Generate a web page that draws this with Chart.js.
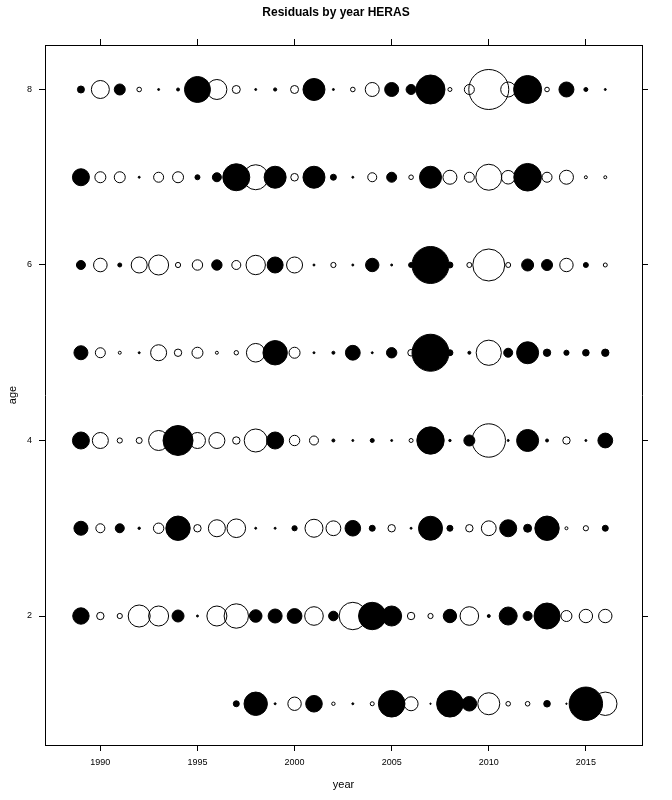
<!DOCTYPE html>
<html><head><meta charset="utf-8">
<script src="https://cdn.jsdelivr.net/npm/chart.js@4/dist/chart.umd.min.js"></script>
<style>html,body{margin:0;padding:0;background:#fff}canvas{display:block}</style>
</head><body>
<canvas id="c" width="672" height="800"></canvas>
<script>
// ---- data ----
const years = [1989,1990,1991,1992,1993,1994,1995,1996,1997,1998,1999,2000,2001,2002,2003,2004,2005,2006,2007,2008,2009,2010,2011,2012,2013,2014,2015,2016];
const yearsAge1 = [1997,1998,1999,2000,2001,2002,2003,2004,2005,2006,2007,2008,2009,2010,2011,2012,2013,2014,2015,2016];
const resAge8 = [0.7,-1.8,1.1,-0.46,0.2,0.3,2.6,-2.0,-0.8,0.2,0.32,-0.8,2.2,0.2,-0.46,-1.4,1.4,1.0,2.9,-0.4,-1.0,-4.0,-1.5,2.8,-0.46,1.5,0.4,0.2];
const resAge7 = [1.7,-1.1,-1.1,0.2,-1.0,-1.1,0.5,0.9,2.7,-2.5,2.2,-0.76,2.2,0.6,0.2,-0.9,1.0,-0.46,2.2,-1.4,-1.0,-2.6,-1.36,2.76,-1.0,-1.4,-0.3,-0.3];
const resAge6 = [0.9,-1.36,0.4,-1.6,-2.0,-0.52,-1.04,1.04,-0.9,-1.94,1.6,-1.6,0.2,-0.52,0.2,1.34,0.2,0.5,3.7,0.6,-0.5,-3.2,-0.5,1.2,1.1,-1.34,0.5,-0.4];
const resAge5 = [1.4,-1.0,-0.3,0.2,-1.6,-0.74,-1.1,-0.3,-0.44,-1.86,2.44,-1.1,0.2,0.3,1.48,0.2,1.04,-0.66,3.7,0.6,0.3,-2.52,0.9,2.2,0.74,0.52,0.66,0.74];
const resAge4 = [1.7,-1.6,-0.52,-0.6,-2.0,3.0,-1.6,-1.6,-0.74,-2.3,1.7,-1.04,-0.9,0.3,0.2,0.4,0.2,-0.4,2.74,0.24,1.1,-3.34,0.2,2.2,0.3,-0.74,0.2,1.48];
const resAge3 = [1.4,-0.9,0.9,0.24,-1.04,2.44,-0.74,-1.7,-1.86,0.2,0.2,0.52,-1.8,-1.48,1.56,0.6,-0.74,0.2,2.4,0.6,-0.74,-1.48,1.7,0.8,2.44,-0.3,-0.52,0.6];
const resAge2 = [1.64,-0.74,-0.52,-2.2,-2.0,1.2,0.2,-2.0,-2.44,1.26,1.4,1.48,-1.86,0.96,-2.74,2.74,2.0,-0.74,-0.52,1.34,-1.86,0.3,1.8,0.9,2.6,-1.1,-1.34,-1.34];
const resAge1 = [0.6,2.34,0.2,-1.34,1.66,-0.34,0.2,-0.4,2.66,-1.4,0.14,2.66,1.46,-2.2,-0.46,-0.46,0.66,0.14,3.34,-2.34];
const xTicks = [1990,1995,2000,2005,2010,2015];
const yTicks = [2,4,6,8];

// ---- build ----
const R_PER_UNIT = 5;
const rows = [
  {age:8, yrs:years, res:resAge8},
  {age:7, yrs:years, res:resAge7},
  {age:6, yrs:years, res:resAge6},
  {age:5, yrs:years, res:resAge5},
  {age:4, yrs:years, res:resAge4},
  {age:3, yrs:years, res:resAge3},
  {age:2, yrs:years, res:resAge2},
  {age:1, yrs:yearsAge1, res:resAge1}
];
const datasets = rows.map(row => ({
  label: 'age ' + row.age,
  data: row.yrs.map((yr, i) => ({x: yr, y: row.age, r: Math.abs(row.res[i]) * R_PER_UNIT, v: row.res[i]})),
  backgroundColor: ctx => (ctx.raw && ctx.raw.v > 0) ? '#000000' : 'rgba(0,0,0,0)',
  borderColor: '#000000',
  borderWidth: 1
}));

Chart.defaults.font.family = "'Liberation Sans', Arial, sans-serif";
Chart.defaults.color = '#000';

const X_MIN = 1987.15, X_MAX = 2017.89, Y_MIN = 0.53, Y_MAX = 8.507;
const setTicks = arr => s => { s.ticks = arr.map(v => ({value: v})); };
const gridOpts = {display: true, drawOnChartArea: false, drawTicks: true, tickLength: 6, color: '#000', tickWidth: 1};
const borderOpts = {display: true, color: '#000', width: 1};

new Chart(document.getElementById('c'), {
  type: 'bubble',
  data: {datasets},
  options: {
    responsive: false,
    animation: false,
    events: [],
    layout: {padding: 0},
    plugins: {
      legend: {display: false},
      tooltip: {enabled: false},
      title: {display: true, text: 'Residuals by year HERAS', color: '#000',
        font: {size: 12, weight: 'bold', lineHeight: 1}, padding: {top: 7, bottom: 5}}
    },
    scales: {
      x: {type: 'linear', position: 'bottom', min: X_MIN, max: X_MAX,
        afterBuildTicks: setTicks(xTicks),
        afterFit: s => { s.height = 55; },
        grid: gridOpts, border: borderOpts,
        ticks: {font: {size: 9}, color: '#000', padding: 6, maxRotation: 0, callback: v => String(v)},
        title: {display: true, text: 'year', font: {size: 11}, color: '#000', padding: {top: 8, bottom: 8}}},
      x2: {type: 'linear', position: 'top', min: X_MIN, max: X_MAX,
        afterBuildTicks: setTicks(xTicks),
        afterFit: s => { s.height = 21; },
        grid: gridOpts, border: borderOpts,
        ticks: {display: false}},
      y: {type: 'linear', position: 'left', min: Y_MIN, max: Y_MAX,
        afterBuildTicks: setTicks(yTicks),
        afterFit: s => { s.width = 45; },
        grid: gridOpts, border: borderOpts,
        ticks: {font: {size: 9}, color: '#000', padding: 7, callback: v => String(v)},
        title: {display: true, text: 'age', font: {size: 11}, color: '#000', padding: {top: 6, bottom: 6}}},
      y2: {type: 'linear', position: 'right', min: Y_MIN, max: Y_MAX,
        afterBuildTicks: setTicks(yTicks),
        afterFit: s => { s.width = 30; },
        grid: gridOpts, border: borderOpts,
        ticks: {display: false}}
    }
  }
});
</script>
</body></html>
